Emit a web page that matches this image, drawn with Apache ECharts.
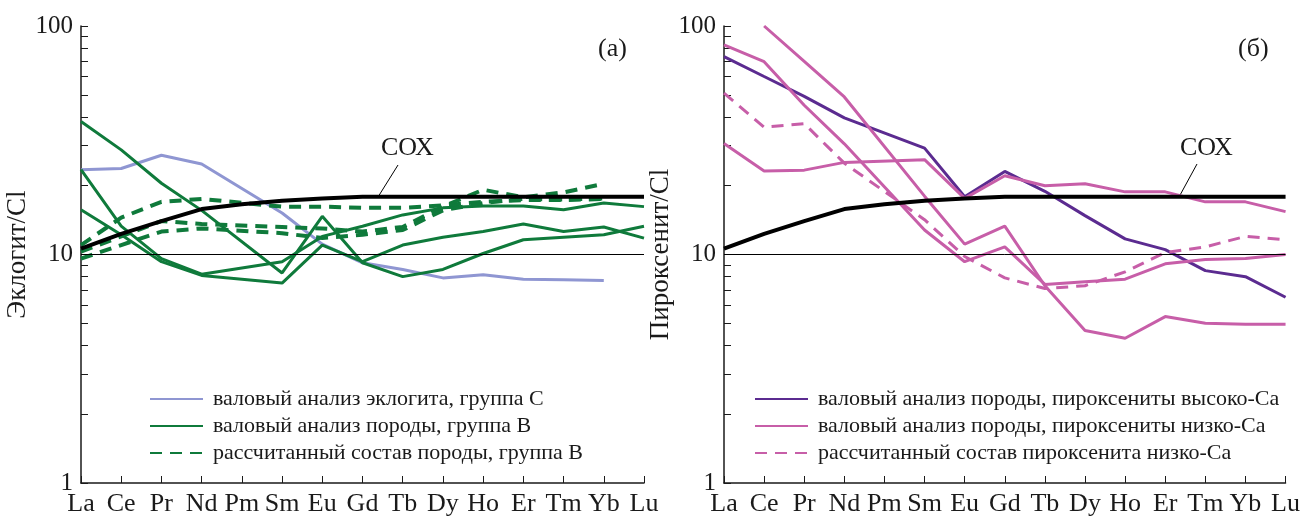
<!DOCTYPE html>
<html>
<head>
<meta charset="utf-8">
<script src="https://cdn.jsdelivr.net/npm/echarts@6/dist/echarts.min.js"></script>
<style>
html, body { margin: 0; padding: 0; background: #fff; }
#chart { width: 1303px; height: 517px; }
</style>
</head>
<body>
<div id="chart"></div>
<script>
var ree = ['La', 'Ce', 'Pr', 'Nd', 'Pm', 'Sm', 'Eu', 'Gd', 'Tb', 'Dy', 'Ho', 'Er', 'Tm', 'Yb', 'Lu'];
var yTicks = [1, 2, 3, 4, 5, 6, 7, 8, 9, 10, 20, 30, 40, 50, 60, 70, 80, 90, 100];
var yLabels = [1, 10, 100];

// СОХ
var mor = [10.6, 12.3, 14.0, 15.8, 16.6, 17.2, 17.6, 17.9, 17.9, 17.9, 17.9, 17.9, 17.9, 17.9, 17.9];

// (а) эклогиты
var eclogiteC = [23.5, 23.8, 27.2, 24.9, null, 15.2, 11.1, 9.2, 8.6, 7.9, 8.15, 7.8, 7.75, 7.7, null];
var rockB1 = [38.2, 28.7, 20.5, 15.6, null, 8.3, 14.7, 9.2, 8.0, 8.6, 10.1, 11.6, 11.9, 12.2, 13.3];
var rockB2 = [23.5, 13.3, 9.6, 8.2, null, 9.3, 12.0, 13.3, 14.9, 16.0, 16.3, 16.3, 15.7, 16.8, 16.2];
var rockB3 = [15.7, 12.2, 9.3, 8.1, null, 7.5, 11.0, 9.3, 11.0, 11.9, 12.6, 13.6, 12.6, 13.2, 11.8];
var calcB1 = [11.0, 14.5, 17.0, 17.5, null, 16.2, 16.2, 16.0, 16.0, 16.4, 17.0, 17.3, 17.3, 17.5, null];
var calcB2 = [10.3, 12.0, 14.0, 13.6, null, 13.2, 13.0, 12.6, 13.2, 16.2, 19.2, 17.8, 18.7, 20.4, null];
var calcB3 = [9.6, 11.0, 12.6, 13.0, null, 12.4, 11.8, 12.2, 12.8, 15.6, 16.8, 17.5, 17.4, 17.6, null];

// (б) пироксениты
var hiCa = [73.5, 60.1, 49.2, 39.6, null, 29.2, 17.9, 23.1, 18.9, 14.8, 11.7, 10.5, 8.5, 8.0, 6.5];
var loCa1 = [null, 100, 70, 48.9, null, 18, 11.1, 13.3, 7.3, 4.65, 4.3, 5.35, 5.0, 4.95, 4.95];
var loCa2 = [82.6, 69.8, 45, 30.5, null, 12.8, 9.3, 10.8, 7.4, 7.6, 7.8, 9.1, 9.5, 9.6, 10.0];
var loCa3 = [30.6, 23.2, 23.4, 25.3, null, 26.0, 17.6, 22.1, 20.0, 20.4, 18.8, 18.8, 17.0, 17.0, 15.4];
var loCaCalc = [50.8, 36.1, 37.4, 25.1, null, 14.2, 9.8, 7.9, 7.1, 7.3, 8.4, 10.2, 10.8, 12.0, 11.6];

var nameEclC = 'валовый анализ эклогита, группа С';
var nameRockB = 'валовый анализ породы, группа В';
var nameCalcB = 'рассчитанный состав породы, группа В';
var nameHiCa = 'валовый анализ породы, пироксениты высоко-Ca';
var nameLoCa = 'валовый анализ породы, пироксениты низко-Ca';
var nameLoCaCalc = 'рассчитанный состав пироксенита низко-Ca';

var serif = 'Liberation Serif';
var ink = '#1a1a1a';
var green = '#0f7a3b';
var lilac = '#8f96d2';
var violet = '#5b2b90';
var pink = '#c75ea8';

function line(name, data, axis, color, width, dash) {
	return {
		name: name,
		type: 'line',
		xAxisIndex: axis,
		yAxisIndex: axis,
		data: data,
		connectNulls: true,
		symbol: 'none',
		silent: true,
		lineStyle: { color: color, width: width, type: dash ? [12, 8] : 'solid' },
		itemStyle: { color: color }
	};
}

function moreLine(axis) {
	var s = line('СОХ', mor, axis, '#000', 4, false);
	s.z = 5;
	s.markLine = {
		silent: true,
		symbol: ['none', 'none'],
		label: { show: false },
		lineStyle: { color: '#000', width: 1, type: 'solid' },
		data: [{ yAxis: 10 }]
	};
	return s;
}

function xAxis(i) {
	return {
		type: 'category',
		gridIndex: i,
		data: ree,
		boundaryGap: false,
		axisLine: { lineStyle: { color: ink, width: 1.5 } },
		axisTick: { inside: true, length: 7, interval: 0, lineStyle: { color: ink, width: 1 } },
		axisLabel: { interval: 0, margin: 8, color: ink, fontFamily: serif, fontSize: 26 },
		splitLine: { show: false }
	};
}

function yAxis(i, name) {
	return {
		type: 'log',
		logBase: 10,
		gridIndex: i,
		min: 1,
		max: 100,
		name: name,
		nameLocation: 'middle',
		nameGap: 42,
		nameTextStyle: { color: ink, fontFamily: serif, fontSize: 27 },
		axisLine: { show: true, lineStyle: { color: ink, width: 1.5 } },
		axisTick: { show: true, inside: true, length: 7, customValues: yTicks, lineStyle: { color: ink, width: 1 } },
		axisLabel: { customValues: yLabels, margin: 8, color: ink, fontFamily: serif, fontSize: 25 },
		splitLine: { show: false },
		minorTick: { show: false }
	};
}

function legend(left, names) {
	return {
		orient: 'vertical',
		left: left,
		top: 383,
		itemWidth: 53,
		itemHeight: 14,
		itemGap: 5,
		data: names,
		selectedMode: false,
		itemStyle: { opacity: 0 },
		textStyle: { color: ink, fontFamily: serif, fontSize: 22, lineHeight: 21, padding: [0, 0, 0, 5] }
	};
}

var chart = echarts.init(document.getElementById('chart'), null, { renderer: 'canvas' });

var option = {
	backgroundColor: '#fff',
	animation: false,
	grid: [
		{ left: 81, right: 659, top: 26, bottom: 34 },
		{ left: 724, right: 17, top: 26, bottom: 34 }
	],
	xAxis: [xAxis(0), xAxis(1)],
	yAxis: [yAxis(0, 'Эклогит/Cl'), yAxis(1, 'Пироксенит/Cl')],
	legend: [
		legend(144, [nameEclC, nameRockB, nameCalcB]),
		legend(749, [nameHiCa, nameLoCa, nameLoCaCalc])
	],
	graphic: [
		{ type: 'text', left: 598, top: 36, style: { text: '(а)', font: '26px "Liberation Serif"', fill: ink } },
		{ type: 'text', left: 1238, top: 36, style: { text: '(б)', font: '26px "Liberation Serif"', fill: ink } },
		{ type: 'text', left: 381, top: 135, style: { text: 'СОХ', font: '26px "Liberation Serif"', fill: ink } },
		{ type: 'text', left: 1180, top: 135, style: { text: 'СОХ', font: '26px "Liberation Serif"', fill: ink } },
		{ type: 'line', shape: { x1: 398, y1: 165, x2: 378, y2: 197 }, style: { stroke: '#000', lineWidth: 1 } },
		{ type: 'line', shape: { x1: 1197, y1: 164, x2: 1179, y2: 197 }, style: { stroke: '#000', lineWidth: 1 } }
	],
	series: [
		line(nameEclC, eclogiteC, 0, lilac, 3, false),
		line(nameRockB, rockB1, 0, green, 3, false),
		line(nameRockB, rockB2, 0, green, 3, false),
		line(nameRockB, rockB3, 0, green, 3, false),
		line(nameCalcB, calcB1, 0, green, 4, true),
		line(nameCalcB, calcB2, 0, green, 4, true),
		line(nameCalcB, calcB3, 0, green, 4, true),
		moreLine(0),

		line(nameHiCa, hiCa, 1, violet, 3, false),
		line(nameLoCa, loCa1, 1, pink, 3, false),
		line(nameLoCa, loCa2, 1, pink, 3, false),
		line(nameLoCa, loCa3, 1, pink, 3, false),
		line(nameLoCaCalc, loCaCalc, 1, pink, 3, true),
		moreLine(1)
	]
};

chart.setOption(option);
</script>
</body>
</html>
